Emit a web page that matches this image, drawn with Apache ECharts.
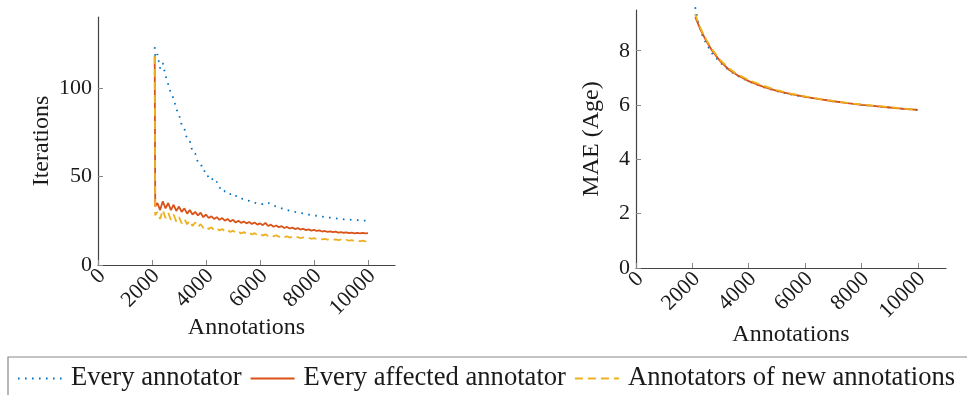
<!DOCTYPE html>
<html>
<head>
<meta charset="utf-8">
<script src="https://cdn.jsdelivr.net/npm/echarts@6/dist/echarts.min.js"></script>
<style>
  html, body { margin: 0; padding: 0; background: #fff; }
  #chart { width: 967px; height: 395px; }
</style>
</head>
<body>
<div id="chart"></div>
<script>
// names shown in the legend
const seriesNames = ['Every annotator', 'Every affected annotator', 'Annotators of new annotations']
const xTicks = [0, 2000, 4000, 6000, 8000, 10000]
const iterTicks = [0, 50, 100]
const maeTicks = [0, 2, 4, 6, 8]

// left panel: iterations per annotation count
const iterX = [
  2100, 2120, 2200, 2300, 2400, 2500, 2600, 2700, 2800, 2900,
  3000, 3100, 3200, 3300, 3400, 3500, 3600, 3700, 3800, 3900,
  4000, 4100, 4200, 4300, 4400, 4500, 4600, 4700, 4800, 4900,
  5000, 5100, 5200, 5300, 5400, 5500, 5600, 5700, 5800, 5900,
  6000, 6100, 6200, 6300, 6400, 6500, 6600, 6700, 6800, 6900,
  7000, 7100, 7200, 7300, 7400, 7500, 7600, 7700, 7800, 7900,
  8000, 8100, 8200, 8300, 8400, 8500, 8600, 8700, 8800, 8900,
  9000, 9100, 9200, 9300, 9400, 9500, 9600, 9700, 9800, 9900,
  10000
]
const iterEvery = [
  123, 117, 119, 111, 114, 107, 102, 97, 94, 88,
  85, 79, 77, 71, 70, 64, 63, 58, 57.5, 53,
  53, 49, 49.5, 46.5, 47, 43.5, 44, 41.5, 41.5, 40,
  40.5, 39, 38.8, 37.5, 37.3, 36.5, 36.2, 35.5, 35.2, 34.6,
  34.5, 34.4, 35, 35.2, 34.2, 33.5, 33, 32.5, 32, 31.5,
  31, 30.7, 30.4, 30, 29.7, 29.4, 29.1, 28.8, 28.5, 28.2,
  28, 27.8, 27.6, 27.3, 27.1, 26.9, 26.7, 26.5, 26.3, 26.1,
  26, 25.8, 25.7, 25.6, 25.5, 25.4, 25.3, 25.2, 25.1, 25,
  24.8
]
const iterAffected = [
  118, 33, 35, 31, 36, 32, 35, 31, 34, 30.5,
  33, 30, 32, 29, 31, 28.5, 30, 28, 29.5, 27,
  28.5, 26.5, 27.5, 26, 27, 25.5, 26.5, 25, 26, 24.5,
  25.5, 24, 25, 23.8, 24.6, 23.5, 24.3, 23.2, 24, 22.8,
  23.5, 22.5, 23.8, 22, 22.8, 21.6, 22.3, 21.3, 21.9, 20.9,
  21.5, 20.6, 21.1, 20.3, 20.8, 20, 20.5, 19.7, 20.1, 19.4,
  19.8, 19.2, 19.5, 18.9, 19.2, 18.7, 19, 18.5, 18.8, 18.3,
  18.6, 18.2, 18.4, 18, 18.3, 17.9, 18.2, 17.9, 18.1, 17.8,
  18
]
const iterNew = [
  118, 28, 30, 26, 31, 26.5, 29.5, 25.5, 28.5, 24.5,
  27, 23.5, 26, 23, 25, 22, 24, 21.5, 23, 21,
  22, 20.3, 21.3, 19.8, 20.8, 19.5, 20.3, 19, 19.8, 18.6,
  19.4, 18.2, 19, 17.8, 18.6, 17.5, 18.3, 17.2, 18, 16.9,
  17.6, 16.6, 17.3, 16.4, 17, 16.2, 16.8, 15.9, 16.5, 15.7,
  16.2, 15.5, 16, 15.3, 15.8, 15.1, 15.6, 15, 15.4, 14.8,
  15.2, 14.6, 15, 14.4, 14.8, 14.3, 14.6, 14.1, 14.5, 14,
  14.3, 13.8, 14.2, 13.7, 14, 13.5, 13.9, 13.4, 13.8, 13.3,
  13.5
]

// right panel: MAE (age)
const maeX = [2100, 2200, 2300, 2400, 2500, 2700, 3000, 3300, 3600, 4000, 4500,
  5000, 5500, 6000, 6500, 7000, 7500, 8000, 8500, 9000, 9500, 10000]
const maeEvery = [9.6, 9.1, 8.7, 8.45, 8.25, 7.9, 7.55, 7.28, 7.08, 6.87, 6.67,
  6.51, 6.39, 6.3, 6.22, 6.14, 6.07, 6.01, 5.96, 5.91, 5.86, 5.82]
const maeAffected = [9.25, 9.0, 8.75, 8.55, 8.35, 8.0, 7.6, 7.3, 7.1, 6.88, 6.68,
  6.52, 6.4, 6.3, 6.22, 6.14, 6.07, 6.01, 5.96, 5.91, 5.86, 5.82]
const maeNew = [9.35, 9.05, 8.8, 8.6, 8.4, 8.05, 7.65, 7.35, 7.13, 6.92, 6.72,
  6.55, 6.42, 6.32, 6.23, 6.15, 6.08, 6.02, 5.97, 5.92, 5.87, 5.83]

const font = 'Liberation Serif'
const textColor = '#1a1a1a'
const axisColor = '#444'
const colors = ['#0072BD', '#D95319', '#EDB120']
const dashes = [[1.6, 5.4], 'solid', [8, 5]]

const pairs = (xs, ys) => xs.map((x, i) => [x, ys[i]])

const xAxisFor = (gridIndex, nameGap) => ({
  type: 'value',
  gridIndex: gridIndex,
  min: 0,
  max: 11000,
  interval: 2000,
  name: 'Annotations',
  nameLocation: 'middle',
  nameGap: nameGap,
  nameMoveOverlap: false,
  nameTextStyle: { fontFamily: font, fontSize: 24, color: textColor },
  axisLine: { lineStyle: { color: axisColor, width: 1.2 } },
  axisTick: { inside: true, length: 5, customValues: xTicks, lineStyle: { color: '#888' } },
  axisLabel: {
    rotate: 45, margin: 12, customValues: xTicks,
    padding: [10, -6, 0, 0],
    formatter: v => String(v),
    fontFamily: font, fontSize: 22, color: textColor,
  },
  splitLine: { show: false },
})

const yAxisFor = (gridIndex, name, max, interval, ticks, nameGap) => ({
  type: 'value',
  gridIndex: gridIndex,
  min: 0,
  max: max,
  interval: interval,
  name: name,
  nameLocation: 'middle',
  nameGap: nameGap,
  nameMoveOverlap: false,
  nameTextStyle: { fontFamily: font, fontSize: 24, color: textColor },
  axisLine: { show: true, lineStyle: { color: axisColor, width: 1.2 } },
  axisTick: { show: true, inside: true, length: 5, customValues: ticks, lineStyle: { color: '#888' } },
  axisLabel: { margin: 6, customValues: ticks, fontFamily: font, fontSize: 22, color: textColor },
  splitLine: { show: false },
})

const lineFor = (idx, axisIndex, data) => ({
  name: seriesNames[idx],
  type: 'line',
  xAxisIndex: axisIndex,
  yAxisIndex: axisIndex,
  data: data,
  symbol: 'none',
  clip: false,
  lineStyle: { color: colors[idx], width: 1.8, type: dashes[idx] },
  itemStyle: { color: colors[idx] },
  z: 2 + idx,
})

const chart = echarts.init(document.getElementById('chart'), null, { renderer: 'canvas' })

chart.setOption({
  animation: false,
  backgroundColor: '#fff',
  grid: [
    { left: 98, top: 17, width: 297, height: 248 },
    { left: 636, top: 10, width: 310, height: 258 },
  ],
  xAxis: [xAxisFor(0, 51), xAxisFor(1, 55)],
  yAxis: [
    yAxisFor(0, 'Iterations', 140, 50, iterTicks, 44),
    yAxisFor(1, 'MAE (Age)', 9.5, 2, maeTicks, 32),
  ],
  legend: {
    data: seriesNames,
    left: 8,
    top: 357,
    width: 1200,
    itemWidth: 44,
    itemHeight: 12,
    itemGap: 8,
    padding: [8, 80, 20, 9],
    borderColor: '#888',
    borderWidth: 1.2,
    itemStyle: { opacity: 0 },
    textStyle: { fontFamily: font, fontSize: 26.6, color: textColor, padding: [0, 0, 0, 4] },
  },
  series: [
    lineFor(0, 0, pairs(iterX, iterEvery)),
    lineFor(1, 0, pairs(iterX, iterAffected)),
    lineFor(2, 0, pairs(iterX, iterNew)),
    lineFor(0, 1, pairs(maeX, maeEvery)),
    lineFor(1, 1, pairs(maeX, maeAffected)),
    lineFor(2, 1, pairs(maeX, maeNew)),
  ],
})
</script>
</body>
</html>
